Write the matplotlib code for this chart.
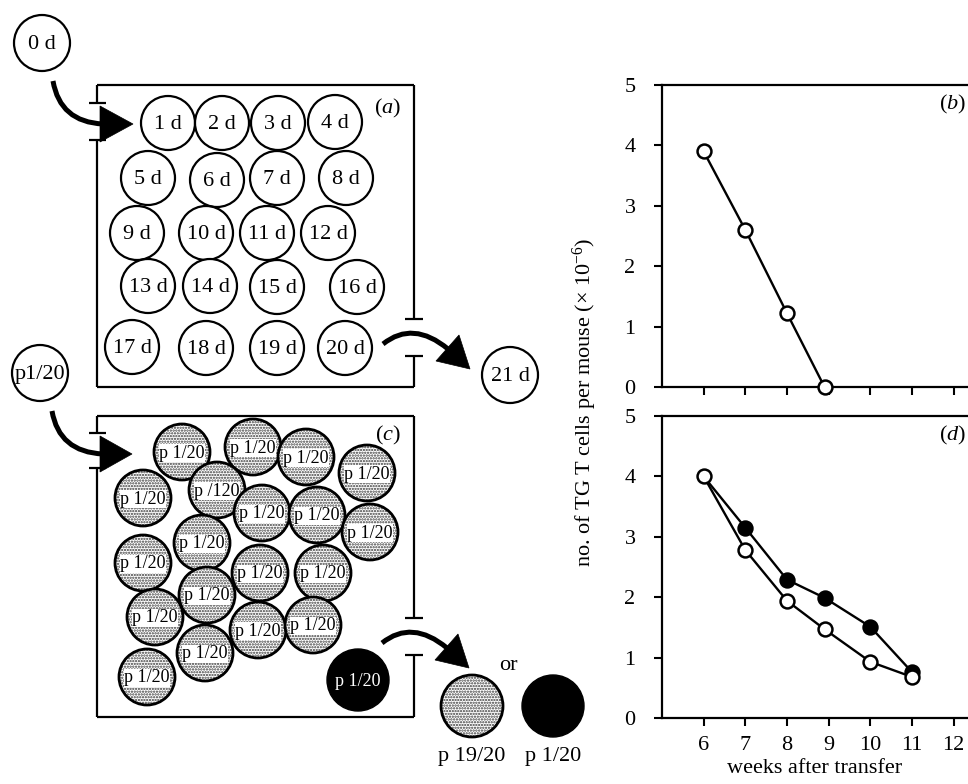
import matplotlib
matplotlib.use("Agg")
import matplotlib.pyplot as plt
from matplotlib.patches import Circle, Polygon, PathPatch
from matplotlib.path import Path

plt.rcParams["font.family"] = ["Liberation Serif", "DejaVu Serif"]
plt.rcParams["mathtext.fontset"] = "custom"
plt.rcParams["mathtext.rm"] = "Liberation Serif"
plt.rcParams["mathtext.it"] = "Liberation Serif:italic"
plt.rcParams["hatch.linewidth"] = 1.1

# panel (b): one series
weeks_b = [6, 7, 8, 8.9]
cells_b = [3.9, 2.6, 1.22, 0.0]

# panel (d): two series
weeks_d = [6, 7, 8, 8.9, 10, 11]
cells_d_open = [4.0, 2.78, 1.94, 1.47, 0.93, 0.68]
cells_d_filled = [4.0, 3.15, 2.29, 1.99, 1.51, 0.76]

x_ticks = [6, 7, 8, 9, 10, 11, 12]
y_ticks = [0, 1, 2, 3, 4, 5]

# schematic labels
day_labels = ["%d d" % i for i in range(1, 21)]
stipple_labels = ["p 1/20"] * 19
stipple_labels[5] = "p /120"

# schematic layout (pixel coordinates on the figure)
day_xy = [(168, 123), (222, 123), (278, 123), (335, 122),
          (148, 178), (217, 180), (277, 178), (346, 178),
          (137, 233), (206, 233), (267, 233), (328, 233),
          (148, 286), (210, 286), (277, 287), (357, 287),
          (132, 347), (206, 348), (277, 348), (345, 348)]
stipple_xy = [(182, 452), (253, 447), (306, 457), (367, 473),
              (143, 498), (217, 490), (262, 513), (317, 515), (370, 532),
              (202, 543), (143, 563), (260, 573), (323, 573),
              (207, 595), (155, 617), (258, 630), (313, 625),
              (205, 653), (147, 677)]

W, H = 968, 784
fig = plt.figure(figsize=(W / 100, H / 100), dpi=100)

ax0 = fig.add_axes([0, 0, 1, 1])
ax0.set_xlim(0, W)
ax0.set_ylim(H, 0)
ax0.axis("off")

FS = 16


def plain_circle(x, y, label, r=27, fs=FS):
    ax0.add_patch(Circle((x, y), r, facecolor="white", edgecolor="black", lw=1.6))
    ax0.text(x, y + 1, label, ha="center", va="center", fontsize=fs)


def stipple_circle(x, y, label, z, r=28):
    ax0.add_patch(Circle((x, y), r, facecolor="white", edgecolor="#3a3a3a",
                         hatch="......", lw=0, zorder=z))
    ax0.add_patch(Circle((x, y), r, facecolor="none", edgecolor="black",
                         lw=2.0, zorder=z + 0.1))
    if label:
        ax0.text(x, y + 1, label, ha="center", va="center", fontsize=13, zorder=z + 0.2,
                 bbox=dict(facecolor="white", edgecolor="none", pad=0.3))


def box(top, bottom, lgap, rgap, left=97, right=414):
    kw = dict(color="black", lw=1.6, solid_capstyle="butt")
    ax0.plot([left, right], [top, top], **kw)
    ax0.plot([left, right], [bottom, bottom], **kw)
    ax0.plot([left, left], [top, lgap[0]], **kw)
    ax0.plot([left, left], [lgap[1], bottom], **kw)
    ax0.plot([right, right], [top, rgap[0]], **kw)
    ax0.plot([right, right], [rgap[1], bottom], **kw)
    for yy in lgap:
        ax0.plot([left - 8, left + 9], [yy, yy], **kw)
    for yy in rgap:
        ax0.plot([right - 9, right + 9], [yy, yy], **kw)


def curved_arrow(p0, p1, p2, head):
    path = Path([p0, p1, p2], [Path.MOVETO, Path.CURVE3, Path.CURVE3])
    ax0.add_patch(PathPatch(path, facecolor="none", edgecolor="black", lw=3.6,
                            capstyle="butt"))
    ax0.add_patch(Polygon(head, closed=True, facecolor="black", edgecolor="black", lw=0.5))


# panel (a)
box(85, 387, (103, 140), (319, 356))
plain_circle(42, 43, "0 d", r=28)
curved_arrow((53, 81), (60, 122), (103, 124), [(100, 106), (133, 124), (100, 142)])
for (x, y), lab in zip(day_xy, day_labels):
    plain_circle(x, y, lab)
curved_arrow((383, 344), (413, 320), (448, 349), [(459, 335), (470, 369), (436, 361)])
plain_circle(510, 375, "21 d", r=28)
ax0.text(388, 108, r"($a$)", ha="center", va="center", fontsize=FS)

# panel (c)
box(416, 717, (433, 468), (618, 655))
plain_circle(40, 373, "p1/20", r=28, fs=16)
curved_arrow((52, 411), (59, 452), (103, 454), [(100, 436), (132, 454), (100, 472)])
for i, ((x, y), lab) in enumerate(zip(stipple_xy, stipple_labels)):
    stipple_circle(x, y, lab, z=2 + i)
ax0.text(388, 435, r"($c$)", ha="center", va="center", fontsize=FS, zorder=30)

ax0.add_patch(Circle((358, 680), 31, facecolor="black", edgecolor="black", zorder=30))
ax0.text(358, 681, "p 1/20", color="white", ha="center", va="center", fontsize=13, zorder=31)
curved_arrow((382, 643), (412, 619), (447, 648), [(458, 634), (469, 668), (435, 660)])
ax0.text(508, 665, "or", ha="center", va="center", fontsize=FS)
stipple_circle(472, 706, "", z=40, r=31)
ax0.add_patch(Circle((553, 706), 31, facecolor="black", edgecolor="black", zorder=40))
ax0.text(472, 757, "p 19/20", ha="center", va="center", fontsize=FS)
ax0.text(553, 757, "p 1/20", ha="center", va="center", fontsize=FS)

# line plots
left = 662 / W
width = 1 - left
hgt = (387 - 85) / H
ax_b = fig.add_axes([left, 1 - 387 / H, width, hgt])
ax_d = fig.add_axes([left, 1 - 718 / H, width, hgt])

mk = dict(marker="o", markersize=10, markeredgewidth=1.8, color="black", lw=1.7,
          markeredgecolor="black", clip_on=False)
ax_b.plot(weeks_b, cells_b, markerfacecolor="white", zorder=5, **mk)
ax_d.plot(weeks_d, cells_d_filled, markerfacecolor="black", markevery=slice(1, None),
          zorder=4, **mk)
ax_d.plot(weeks_d, cells_d_open, markerfacecolor="white", zorder=5, **mk)

for ax, lab in ((ax_b, r"($b$)"), (ax_d, r"($d$)")):
    ax.set_xlim(5, 5 + 306 / 41.67)
    ax.set_ylim(0, 5)
    ax.set_xticks(x_ticks)
    ax.set_yticks(y_ticks)
    ax.spines["right"].set_visible(False)
    for s in ("left", "top", "bottom"):
        ax.spines[s].set_linewidth(1.6)
    ax.tick_params(direction="out", length=6, width=1.5, labelsize=FS, pad=7)
    ax.tick_params(axis="y", pad=13)
    ax.text(0.995, 0.935, lab, transform=ax.transAxes, ha="right", va="center",
            fontsize=FS)
    ax.patch.set_alpha(0)

ax_b.set_xticklabels([])
ax_d.set_xlabel("weeks after transfer", fontsize=FS, labelpad=3)
fig.text(585 / W, 1 - 402 / H, "no. of TG T cells per mouse (× 10$^{-6}$)",
         rotation=90, ha="center", va="center", fontsize=FS)

fig.savefig("out.png", dpi=100)
